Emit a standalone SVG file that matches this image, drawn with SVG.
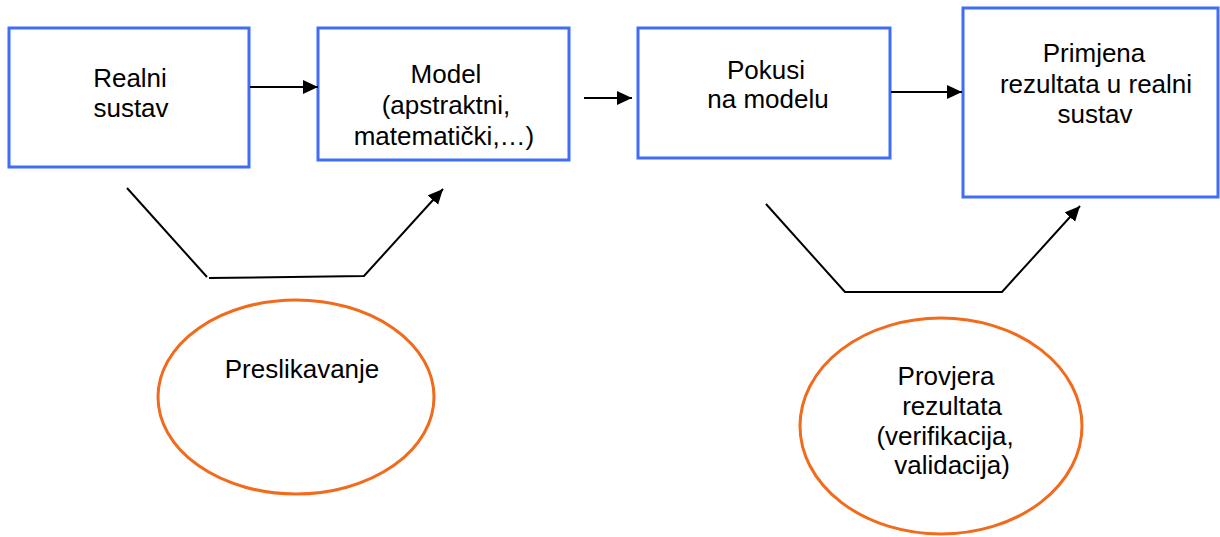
<svg xmlns="http://www.w3.org/2000/svg" width="1220" height="537" viewBox="0 0 1220 537">
<style>
.box{fill:#fff;stroke:#3F6DF5;stroke-width:3}
.ell{fill:#fff;stroke:#F26B1D;stroke-width:3}
.t{font-family:"Liberation Sans",Arial,sans-serif;font-size:26px;fill:#000;text-anchor:middle}
.c{stroke:#000;stroke-width:2;fill:none}
</style>
<defs>
<marker id="ah" markerUnits="userSpaceOnUse" markerWidth="16" markerHeight="15" refX="15" refY="7" orient="auto">
<path d="M0,0 L15,7 L0,14 z" fill="#000"/>
</marker>
</defs>
<rect width="1220" height="537" fill="#fff"/>
<g id="realni">
<rect class="box" x="9" y="28" width="240" height="139"/>
<text class="t" x="130" y="87">Realni</text>
<text class="t" x="131" y="117">sustav</text>
</g>
<g id="model">
<rect class="box" x="318" y="28" width="251" height="132"/>
<text class="t" x="446" y="83">Model</text>
<text class="t" x="446" y="114">(apstraktni,</text>
<text class="t" x="444" y="145">matematički,…)</text>
</g>
<g id="pokusi">
<rect class="box" x="638" y="28" width="252" height="130"/>
<text class="t" x="766" y="79">Pokusi</text>
<text class="t" x="768" y="108">na modelu</text>
</g>
<g id="primjena">
<rect class="box" x="963" y="8" width="255" height="189"/>
<text class="t" x="1094" y="62">Primjena</text>
<text class="t" x="1096" y="93">rezultata u realni</text>
<text class="t" x="1095" y="123">sustav</text>
</g>
<g id="preslikavanje">
<ellipse class="ell" cx="296" cy="397" rx="138" ry="97"/>
<text class="t" x="302" y="378">Preslikavanje</text>
</g>
<g id="provjera">
<ellipse class="ell" cx="941" cy="426" rx="141" ry="108"/>
<text class="t" x="946" y="385">Provjera</text>
<text class="t" x="952" y="415">rezultata</text>
<text class="t" x="945" y="445">(verifikacija,</text>
<text class="t" x="952" y="474">validacija)</text>
</g>
<g id="connectors">
<line class="c" x1="250" y1="87" x2="318" y2="87" marker-end="url(#ah)"/>
<line class="c" x1="584" y1="98" x2="632" y2="98" marker-end="url(#ah)"/>
<line class="c" x1="891" y1="92" x2="962" y2="92" marker-end="url(#ah)"/>
<line class="c" x1="127" y1="188" x2="207" y2="277"/>
<polyline class="c" points="209,278 364,276 443,189" marker-end="url(#ah)"/>
<polyline class="c" points="766,204 845,292 1002,292 1080,206" marker-end="url(#ah)"/>
</g>
</svg>
